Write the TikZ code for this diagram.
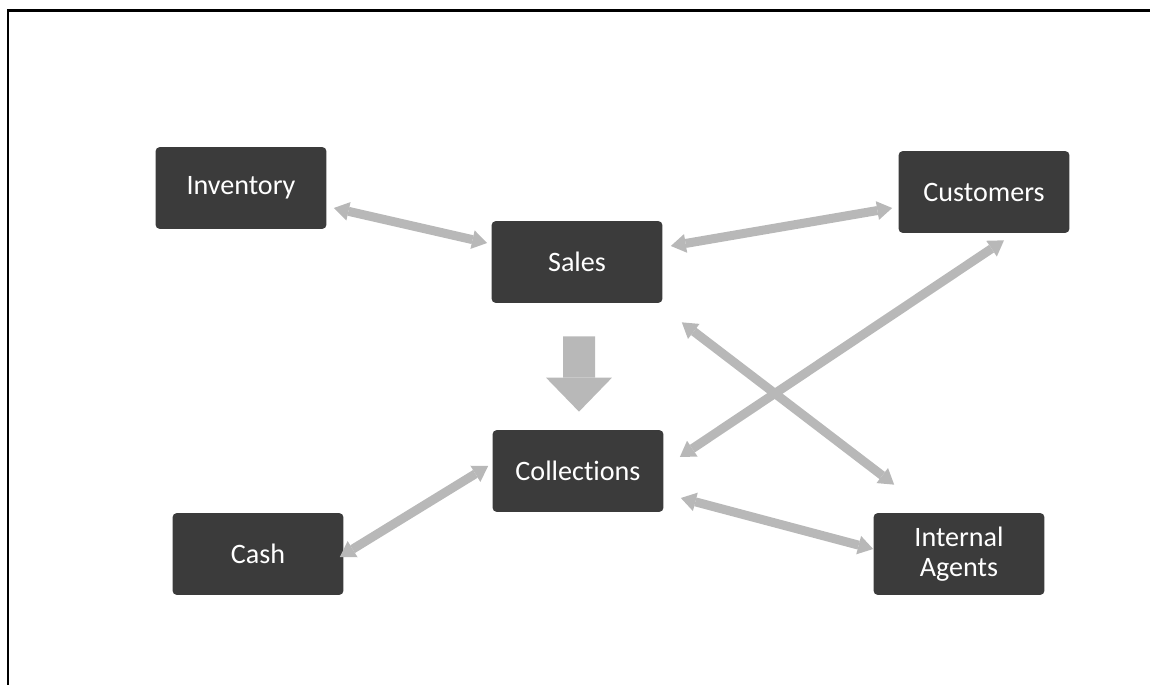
\documentclass[tikz,border=0pt]{standalone}
\usepackage{fontspec}
\setmainfont[Ligatures=NoCommon]{Carlito}
\usetikzlibrary{arrows.meta}

\definecolor{boxgray}{HTML}{3B3B3B}
\definecolor{arrowgray}{HTML}{B8B8B8}

\tikzset{
  box/.style={fill=boxgray, rounded corners=2.5pt, minimum width=3.42cm,
    minimum height=1.64cm, inner sep=0pt, text=white, align=center,
    font=\fontsize{16}{17}\selectfont},
  link/.style={draw=arrowgray, line width=0.18cm,
    {Triangle[length=0.3cm,width=0.38cm,line width=0pt]}-{Triangle[length=0.3cm,width=0.38cm,line width=0pt]}},
  flow/.style={draw=arrowgray, line width=0.64cm,
    -{Triangle[length=0.68cm,width=1.32cm,line width=0pt]}}
}

\begin{document}
\begin{tikzpicture}[x=0.02cm, y=-0.02cm]
  \useasboundingbox (0,0) rectangle (1150,685);
  % frame
  \draw[line width=0.06cm] (8,685) -- (8,11) -- (1150,11);

  \begin{scope}
    \node[box] (inv)    at (241,188) {Inventory};
    \node[box] (sales)  at (577,262) {Sales};
    \node[box] (cust)   at (984,192) {Customers};
    \node[box] (coll)   at (578,471) {Collections};
    \node[box] (cash)   at (258,554) {Cash};
    \node[box] (agents) at (959,554) {Internal\\Agents};

    \draw[flow, shorten <=0.66cm, shorten >=0.36cm] ([xshift=0.04cm]sales.south) -- ([xshift=0.02cm]coll.north);

    \draw[link] ([shift={(7,20)}]inv.east) -- ([shift={(-4,-19)}]sales.west);
    \draw[link] ([shift={(-6,16)}]cust.west) -- ([shift={(8,-16)}]sales.east);
    \draw[link] ([shift={(20,7)}]cust.south) -- ([shift={(16,-14)}]coll.east);
    \draw[link] ([shift={(19,19)}]sales.south east) -- ([shift={(21,-28)}]agents.north west);
    \draw[link] ([shift={(17,27)}]coll.east) -- ([shift={(0,-5)}]agents.west);
    \draw[link] ([shift={(-4,3)}]cash.east) -- ([shift={(-4,-5)}]coll.west);
  \end{scope}
\end{tikzpicture}
\end{document}
